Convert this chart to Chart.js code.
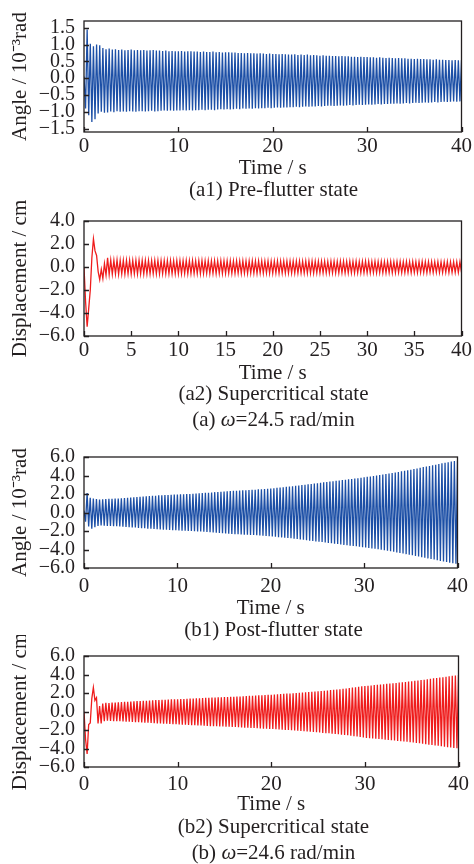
<!DOCTYPE html>
<html>
<head>
<meta charset="utf-8">
<title>Flutter response time histories</title>
<script src="https://cdn.jsdelivr.net/npm/chart.js@4.4.1/dist/chart.umd.min.js"></script>
<style>
  html, body { margin: 0; padding: 0; background: #fff; }
  #figure {
    position: relative;
    width: 474px;
    height: 864px;
    overflow: hidden;
    font-family: "Liberation Serif", "Times New Roman", serif;
    color: #231f20;
  }
  #figure canvas { position: absolute; left: 0; }
  .caption {
    position: absolute;
    left: 84px;
    width: 379px;
    text-align: center;
    font-size: 21px;
    line-height: 21px;
    white-space: nowrap;
  }
</style>
</head>
<body>
<div id="figure">
  <canvas id="chart-a1"></canvas>
  <canvas id="chart-a2"></canvas>
  <canvas id="chart-b1"></canvas>
  <canvas id="chart-b2"></canvas>
  <div class="caption" style="top: 179px">(a1) Pre-flutter state</div>
  <div class="caption" style="top: 383px">(a2) Supercritical state</div>
  <div class="caption" style="top: 409px">(a) <i>ω</i>=24.5 rad/min</div>
  <div class="caption" style="top: 619px">(b1) Post-flutter state</div>
  <div class="caption" style="top: 816px">(b2) Supercritical state</div>
  <div class="caption" style="top: 842px">(b) <i>ω</i>=24.6 rad/min</div>
</div>

<script>
// time between two samples (one peak / one trough), seconds
const SAMPLE_STEP = 1 / 6;

const timeTicksCoarse = [0, 10, 20, 30, 40];
const timeTicksFine = [0, 5, 10, 15, 20, 25, 30, 35, 40];
const angleTicksA = [-1.5, -1.0, -0.5, 0.0, 0.5, 1.0, 1.5];
const dispTicksA = [-6, -4, -2, 0, 2, 4];
const angleTicksB = [-6, -4, -2, 0, 2, 4, 6];
const dispTicksB = [-6, -4, -2, 0, 2, 4, 6];

// (a1) pitch angle, omega = 24.5 rad/min, 10^-3 rad
const angleA = [
    0.05, -0.90, 1.45, -1.10, 1.02, -1.30, 0.95, -1.22, 1.00, -1.05, 0.98, -1.00,
    0.90, -1.03, 0.86, -1.02, 0.88, -0.99, 0.85, -1.01, 0.86, -0.98, 0.84, -1.00,
    0.85, -0.99, 0.83, -1.00, 0.84, -0.98, 0.85, -0.99, 0.83, -1.00, 0.84, -0.98,
    0.83, -0.98, 0.84, -0.99, 0.82, -0.98, 0.83, -0.97, 0.84, -0.99, 0.82, -0.98,
    0.82, -0.97, 0.81, -0.96, 0.82, -0.97, 0.80, -0.96, 0.81, -0.97, 0.80, -0.96,
    0.80, -0.96, 0.81, -0.95, 0.79, -0.96, 0.80, -0.95, 0.80, -0.96, 0.79, -0.95,
    0.79, -0.95, 0.78, -0.94, 0.79, -0.95, 0.78, -0.94, 0.78, -0.94, 0.79, -0.95,
    0.77, -0.93, 0.78, -0.92, 0.76, -0.93, 0.77, -0.92, 0.77, -0.93, 0.76, -0.92,
    0.76, -0.91, 0.75, -0.92, 0.75, -0.90, 0.74, -0.91, 0.75, -0.90, 0.74, -0.91,
    0.74, -0.89, 0.73, -0.90, 0.74, -0.89, 0.73, -0.89, 0.72, -0.88, 0.73, -0.89,
    0.72, -0.88, 0.72, -0.87, 0.71, -0.88, 0.72, -0.87, 0.71, -0.87, 0.70, -0.86,
    0.70, -0.86, 0.71, -0.85, 0.69, -0.86, 0.70, -0.85, 0.69, -0.84, 0.70, -0.85,
    0.68, -0.84, 0.69, -0.84, 0.68, -0.83, 0.67, -0.84, 0.68, -0.83, 0.67, -0.82,
    0.67, -0.82, 0.66, -0.83, 0.66, -0.82, 0.65, -0.81, 0.66, -0.82, 0.65, -0.81,
    0.65, -0.80, 0.64, -0.81, 0.64, -0.80, 0.63, -0.79, 0.64, -0.80, 0.63, -0.79,
    0.63, -0.78, 0.62, -0.79, 0.62, -0.78, 0.61, -0.77, 0.62, -0.78, 0.61, -0.77,
    0.60, -0.77, 0.61, -0.76, 0.60, -0.76, 0.59, -0.75, 0.60, -0.76, 0.59, -0.75,
    0.59, -0.74, 0.58, -0.75, 0.58, -0.74, 0.57, -0.73, 0.58, -0.74, 0.57, -0.73,
    0.57, -0.72, 0.56, -0.73, 0.56, -0.72, 0.55, -0.71, 0.56, -0.72, 0.55, -0.71,
    0.55, -0.70, 0.54, -0.71, 0.54, -0.70, 0.53, -0.69, 0.54, -0.70, 0.53, -0.69,
    0.54
];

// (a2) plunge displacement, omega = 24.5 rad/min, cm
const dispA = [
    0.00, -3.00, -5.20, -3.60, -2.00, 0.80, 2.45, 1.40, 1.00, -0.40, -1.10, -0.20,
    -1.00, 0.30, -0.70, 0.80, -0.65, 0.60, -0.62, 0.58, -0.60, 0.60, -0.62, 0.58,
    -0.60, 0.58, -0.61, 0.57, -0.59, 0.58, -0.60, 0.56, -0.59, 0.57, -0.60, 0.58,
    -0.58, 0.57, -0.60, 0.56, -0.58, 0.57, -0.59, 0.55, -0.58, 0.56, -0.59, 0.57,
    -0.58, 0.56, -0.57, 0.55, -0.58, 0.56, -0.57, 0.55, -0.58, 0.54, -0.57, 0.56,
    -0.57, 0.55, -0.58, 0.54, -0.56, 0.55, -0.57, 0.54, -0.56, 0.55, -0.57, 0.53,
    -0.56, 0.54, -0.57, 0.55, -0.56, 0.53, -0.55, 0.54, -0.56, 0.53, -0.55, 0.54,
    -0.56, 0.53, -0.55, 0.54, -0.56, 0.52, -0.55, 0.53, -0.54, 0.53, -0.55, 0.52,
    -0.55, 0.53, -0.54, 0.52, -0.55, 0.53, -0.54, 0.51, -0.55, 0.52, -0.54, 0.53,
    -0.54, 0.52, -0.55, 0.51, -0.53, 0.52, -0.54, 0.51, -0.53, 0.52, -0.54, 0.50,
    -0.54, 0.51, -0.53, 0.52, -0.54, 0.50, -0.53, 0.51, -0.52, 0.51, -0.53, 0.50,
    -0.53, 0.51, -0.52, 0.50, -0.53, 0.51, -0.52, 0.49, -0.53, 0.50, -0.52, 0.51,
    -0.52, 0.50, -0.53, 0.49, -0.51, 0.50, -0.52, 0.49, -0.51, 0.50, -0.52, 0.48,
    -0.52, 0.49, -0.51, 0.50, -0.52, 0.48, -0.51, 0.49, -0.50, 0.49, -0.51, 0.48,
    -0.51, 0.49, -0.50, 0.48, -0.51, 0.49, -0.50, 0.47, -0.51, 0.48, -0.50, 0.49,
    -0.50, 0.48, -0.51, 0.47, -0.49, 0.48, -0.50, 0.47, -0.49, 0.48, -0.50, 0.46,
    -0.50, 0.47, -0.49, 0.48, -0.50, 0.46, -0.49, 0.47, -0.48, 0.47, -0.49, 0.46,
    -0.49, 0.47, -0.48, 0.46, -0.49, 0.47, -0.48, 0.45, -0.49, 0.46, -0.48, 0.47,
    -0.48, 0.46, -0.49, 0.45, -0.47, 0.46, -0.48, 0.45, -0.47, 0.46, -0.48, 0.44,
    -0.48, 0.45, -0.47, 0.46, -0.48, 0.44, -0.47, 0.45, -0.46, 0.45, -0.47, 0.44,
    -0.46
];

// (b1) pitch angle, omega = 24.6 rad/min, 10^-3 rad
const angleB = [
    0.20, -1.00, 2.10, -1.50, 1.60, -1.75, 1.50, -1.60, 1.45, -1.45, 1.40, -1.40,
    1.44, -1.42, 1.46, -1.45, 1.47, -1.46, 1.49, -1.48, 1.50, -1.49, 1.52, -1.50,
    1.55, -1.54, 1.57, -1.56, 1.60, -1.58, 1.62, -1.61, 1.64, -1.63, 1.67, -1.66,
    1.70, -1.69, 1.72, -1.71, 1.75, -1.74, 1.77, -1.76, 1.80, -1.79, 1.82, -1.81,
    1.85, -1.84, 1.86, -1.86, 1.88, -1.87, 1.90, -1.89, 1.91, -1.91, 1.93, -1.92,
    1.95, -1.94, 1.96, -1.96, 1.98, -1.97, 2.00, -1.99, 2.01, -2.01, 2.03, -2.02,
    2.05, -2.04, 2.07, -2.06, 2.10, -2.09, 2.12, -2.11, 2.14, -2.14, 2.17, -2.16,
    2.20, -2.19, 2.22, -2.21, 2.25, -2.24, 2.27, -2.26, 2.30, -2.29, 2.32, -2.31,
    2.35, -2.34, 2.36, -2.36, 2.38, -2.37, 2.40, -2.39, 2.41, -2.41, 2.43, -2.42,
    2.45, -2.44, 2.47, -2.46, 2.50, -2.49, 2.52, -2.51, 2.54, -2.54, 2.57, -2.56,
    2.60, -2.59, 2.63, -2.62, 2.67, -2.66, 2.70, -2.69, 2.73, -2.72, 2.77, -2.76,
    2.80, -2.79, 2.84, -2.83, 2.88, -2.87, 2.92, -2.91, 2.96, -2.95, 3.01, -3.00,
    3.05, -3.04, 3.09, -3.08, 3.13, -3.12, 3.17, -3.16, 3.21, -3.20, 3.26, -3.25,
    3.30, -3.29, 3.34, -3.33, 3.38, -3.37, 3.42, -3.41, 3.46, -3.45, 3.51, -3.50,
    3.55, -3.54, 3.59, -3.58, 3.63, -3.62, 3.67, -3.66, 3.71, -3.70, 3.76, -3.75,
    3.80, -3.79, 3.85, -3.84, 3.89, -3.88, 3.94, -3.93, 3.99, -3.98, 4.04, -4.03,
    4.10, -4.09, 4.15, -4.14, 4.21, -4.20, 4.26, -4.25, 4.32, -4.31, 4.38, -4.37,
    4.45, -4.44, 4.51, -4.50, 4.57, -4.56, 4.63, -4.62, 4.70, -4.69, 4.76, -4.75,
    4.85, -4.84, 4.91, -4.90, 4.97, -4.96, 5.03, -5.02, 5.10, -5.09, 5.16, -5.15,
    5.25, -5.24, 5.31, -5.30, 5.37, -5.36, 5.43, -5.42, 5.50, -5.49, 5.56, -5.55,
    5.62
];

// (b2) plunge displacement, omega = 24.6 rad/min, cm
const dispB = [
    0.00, -3.00, -4.60, -1.40, -1.25, 1.40, 2.60, 1.20, 1.50, -1.30, 0.60, -1.30,
    0.85, -1.05, 0.95, -1.00, 0.92, -1.02, 0.98, -1.04, 0.97, -1.05, 1.00, -1.06,
    1.02, -1.08, 1.04, -1.09, 1.06, -1.11, 1.08, -1.13, 1.10, -1.15, 1.12, -1.17,
    1.13, -1.18, 1.15, -1.20, 1.17, -1.22, 1.19, -1.24, 1.21, -1.26, 1.23, -1.28,
    1.24, -1.29, 1.26, -1.31, 1.27, -1.33, 1.29, -1.35, 1.31, -1.37, 1.33, -1.38,
    1.32, -1.40, 1.34, -1.42, 1.35, -1.44, 1.37, -1.46, 1.39, -1.48, 1.41, -1.49,
    1.42, -1.50, 1.44, -1.52, 1.45, -1.54, 1.47, -1.56, 1.49, -1.58, 1.51, -1.59,
    1.52, -1.60, 1.53, -1.61, 1.54, -1.63, 1.56, -1.64, 1.57, -1.65, 1.58, -1.67,
    1.59, -1.68, 1.61, -1.70, 1.63, -1.72, 1.65, -1.74, 1.67, -1.76, 1.69, -1.77,
    1.70, -1.79, 1.72, -1.81, 1.74, -1.83, 1.76, -1.85, 1.78, -1.87, 1.80, -1.88,
    1.81, -1.89, 1.83, -1.92, 1.86, -1.94, 1.88, -1.97, 1.91, -1.99, 1.93, -2.01,
    1.95, -2.03, 1.97, -2.06, 2.00, -2.08, 2.03, -2.11, 2.05, -2.13, 2.08, -2.16,
    2.10, -2.18, 2.13, -2.21, 2.16, -2.24, 2.19, -2.28, 2.22, -2.31, 2.25, -2.34,
    2.28, -2.36, 2.31, -2.40, 2.35, -2.43, 2.38, -2.47, 2.41, -2.50, 2.45, -2.53,
    2.48, -2.56, 2.53, -2.61, 2.58, -2.66, 2.63, -2.71, 2.68, -2.76, 2.73, -2.81,
    2.76, -2.85, 2.79, -2.88, 2.82, -2.91, 2.86, -2.94, 2.89, -2.97, 2.92, -3.00,
    2.95, -3.04, 2.99, -3.07, 3.02, -3.11, 3.06, -3.14, 3.09, -3.18, 3.13, -3.21,
    3.15, -3.24, 3.19, -3.28, 3.23, -3.32, 3.27, -3.36, 3.31, -3.40, 3.35, -3.44,
    3.40, -3.49, 3.44, -3.53, 3.49, -3.58, 3.53, -3.62, 3.58, -3.67, 3.62, -3.71,
    3.67, -3.76, 3.71, -3.80, 3.76, -3.85, 3.80, -3.89, 3.85, -3.94, 3.90, -3.98,
    3.95
];

const BLUE = '#1c4fa6';
const RED = '#ef1c1c';
const FRAME = '#231f20';
const FONT = '"Liberation Serif", "Times New Roman", serif';

// plot box and label placement for each panel (pixels in the 474x864 figure)
const panels = [
    { id: 'chart-a1', values: angleA, color: BLUE, yTitle: 'Angle / 10\u207B\u00B3rad',
      yMin: -1.6, yMax: 1.7, yTicks: angleTicksA, xTicks: timeTicksCoarse,
      top: 10, bottom: 132, labelPad: 2, xHeight: 49 },
    { id: 'chart-a2', values: dispA, color: RED, yTitle: 'Displacement / cm',
      yMin: -6, yMax: 4, yTicks: dispTicksA, xTicks: timeTicksFine,
      top: 214, bottom: 336, labelPad: 2, xHeight: 50 },
    { id: 'chart-b1', values: angleB, color: BLUE, yTitle: 'Angle / 10\u207B\u00B3rad',
      yMin: -6, yMax: 6, yTicks: angleTicksB, xTicks: timeTicksCoarse,
      top: 450, bottom: 568, labelPad: 6, xHeight: 53 },
    { id: 'chart-b2', values: dispB, color: RED, yTitle: 'Displacement / cm',
      yMin: -6, yMax: 6, yTicks: dispTicksB, xTicks: timeTicksCoarse,
      top: 649, bottom: 767, labelPad: 5, xHeight: 50 }
];

const WIDTH = 474;
const PLOT_LEFT = 84;
const PLOT_RIGHT = 463;

// box round the plot area plus short inward tick marks on bottom and left
const frameAndTicks = {
    id: 'frameAndTicks',
    afterDatasetsDraw(chart) {
        const { ctx, chartArea: area, scales: { x, y } } = chart;
        ctx.save();
        ctx.strokeStyle = FRAME;
        ctx.lineWidth = 1.3;
        ctx.beginPath();
        x.ticks.forEach(tick => {
            const px = Math.round(x.getPixelForValue(tick.value)) + 0.5;
            ctx.moveTo(px, area.bottom);
            ctx.lineTo(px, area.bottom - 5);
        });
        y.ticks.forEach(tick => {
            const py = Math.round(y.getPixelForValue(tick.value)) + 0.5;
            ctx.moveTo(area.left, py);
            ctx.lineTo(area.left + 5, py);
        });
        ctx.stroke();
        ctx.strokeRect(area.left, area.top, area.right - area.left, area.bottom - area.top);
        ctx.restore();
    }
};

function formatSigned(value) {
    return value.toFixed(1).replace('-', '\u2212');
}

function toPoints(values) {
    return values.map((v, i) => ({ x: i * SAMPLE_STEP, y: v }));
}

function buildPanel(panel) {
    const canvas = document.getElementById(panel.id);
    const padTop = Math.min(14, panel.top);
    canvas.width = WIDTH;
    canvas.height = padTop + (panel.bottom - panel.top) + panel.xHeight;
    canvas.style.top = `${panel.top - padTop}px`;

    new Chart(canvas, {
        type: 'line',
        data: {
            datasets: [{
                data: toPoints(panel.values),
                borderColor: panel.color,
                borderWidth: 1.3,
                pointRadius: 0,
                tension: 0,
                fill: false
            }]
        },
        options: {
            responsive: false,
            animation: false,
            events: [],
            layout: { padding: { top: padTop, left: 0, right: WIDTH - PLOT_RIGHT, bottom: 0 } },
            plugins: {
                legend: { display: false },
                tooltip: { enabled: false }
            },
            scales: {
                x: {
                    type: 'linear',
                    min: 0,
                    max: 40,
                    afterBuildTicks: scale => {
                        scale.ticks = panel.xTicks.map(v => ({ value: v }));
                    },
                    afterFit: scale => { scale.height = panel.xHeight; },
                    grid: { display: false, drawTicks: false },
                    border: { display: false },
                    ticks: {
                        autoSkip: false,
                        maxRotation: 0,
                        padding: panel.labelPad,
                        font: { family: FONT, size: 21 },
                        color: FRAME,
                        callback: value => String(value)
                    },
                    title: {
                        display: true,
                        text: 'Time / s',
                        padding: 0,
                        font: { family: FONT, size: 21 },
                        color: FRAME
                    }
                },
                y: {
                    type: 'linear',
                    min: panel.yMin,
                    max: panel.yMax,
                    afterBuildTicks: scale => {
                        scale.ticks = panel.yTicks.map(v => ({ value: v }));
                    },
                    afterFit: scale => { scale.width = PLOT_LEFT; },
                    grid: { display: false, drawTicks: false },
                    border: { display: false },
                    ticks: {
                        autoSkip: false,
                        padding: 9,
                        font: { family: FONT, size: 20 },
                        color: FRAME,
                        callback: value => formatSigned(value)
                    },
                    title: {
                        display: true,
                        text: panel.yTitle,
                        padding: { top: 8, bottom: 0 },
                        font: { family: FONT, size: 21 },
                        color: FRAME
                    }
                }
            }
        },
        plugins: [frameAndTicks]
    });
}

panels.forEach(buildPanel);
</script>
</body>
</html>
